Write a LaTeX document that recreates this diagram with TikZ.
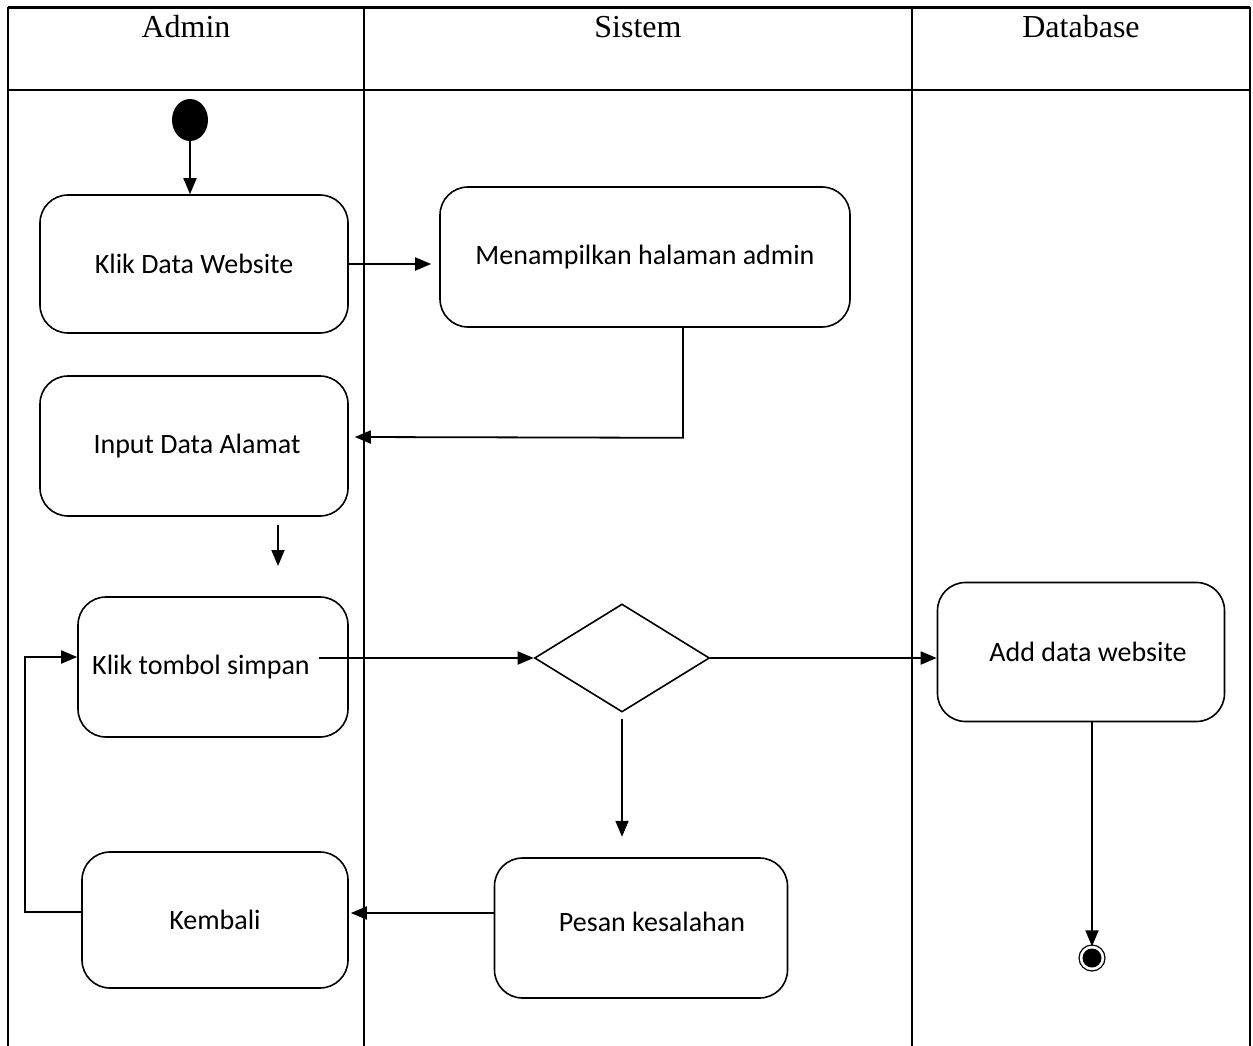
\documentclass[tikz,border=0pt]{standalone}
\usepackage{fontspec}
\setmainfont{Liberation Serif}
\newfontfamily\boxfont{Carlito}
\usetikzlibrary{arrows.meta,shapes.geometric}
\tikzset{
  act/.style={draw, line width=1.6pt, rounded corners=28pt, font=\boxfont\fontsize{28}{32}\selectfont, inner sep=0pt},
  lane/.style={line width=1.8pt},
  flow/.style={line width=1.8pt, -{Triangle[length=16pt,width=13pt]}},
  hdr/.style={font=\fontsize{32}{36}\selectfont, anchor=base}
}
\begin{document}
\begin{tikzpicture}[x=1pt,y=-1pt]
\useasboundingbox (0,0) rectangle (1253,1046);
% swimlane table
\draw[lane] (8,1046) -- (8,8) -- (1250,8) -- (1250,1046);
\draw[line width=3pt] (8,8) -- (1250,8);
\draw[lane] (8,90) -- (1250,90);
\draw[lane] (364,8) -- (364,1046);
\draw[lane] (912,8) -- (912,1046);
\node[hdr] (hA) at (186,38) {Admin};
\node[hdr] (hS) at (638,38) {Sistem};
\node[hdr] (hD) at (1081,38) {Database};
% start
\node[ellipse, fill=black, minimum width=36pt, minimum height=42pt, inner sep=0pt] (start) at (190,120) {};
% activities
\node[act, minimum width=308pt, minimum height=138pt] (kdw) at (194,264) {\raisebox{1pt}{Klik Data Website}};
\node[act, minimum width=410pt, minimum height=140pt] (mha) at (645,257) {\raisebox{2pt}{Menampilkan halaman admin}};
\node[act, minimum width=308pt, minimum height=140pt] (ida) at (194,446) {\raisebox{4pt}{\hspace*{6pt}Input Data Alamat}};
\node[act, minimum width=270pt, minimum height=140pt] (kts) at (213,667) {\raisebox{4pt}{Klik tombol simpan\hspace*{24pt}}};
\node[act, minimum width=287pt, minimum height=139pt] (adw) at (1081,652) {\hspace*{14pt}Add data website};
\node[act, minimum width=293pt, minimum height=140pt] (pk) at (641,928) {\raisebox{12pt}{\hspace*{22pt}Pesan kesalahan}};
\node[act, minimum width=266pt, minimum height=136pt] (kmb) at (215,920) {Kembali};
% decision
\node[diamond, draw, line width=1.6pt, minimum width=175pt, minimum height=108pt, inner sep=0pt, aspect=1.6] (dec) at (622,658) {};
% end
\node[circle, draw, line width=1.2pt, minimum size=26pt, inner sep=0pt] (end) at (1092,958) {};
\fill (end.center) circle (9.5pt);
% helper coordinates
\coordinate (a1) at (278,525);
\coordinate (a2) at (278,566);
% connectors
\draw[flow] (start.south) -- (start.south |- kdw.north);
\draw[flow] (kdw.east) -- ([xshift=-8pt]mha.west |- kdw.east);
\draw[flow] ([xshift=38pt]mha.south) -- ++(0,110) -- ([xshift=6pt]ida.east |- 0,437);
\draw[flow] (a1) -- (a2);
\draw[flow] ([xshift=-30pt]kts.east |- dec.west) -- (dec.west);
\draw[flow] (dec.east) -- (adw.west |- dec.east);
\draw[flow] ([xshift=11pt]adw.south) -- ([yshift=-2pt]end.north);
\draw[flow] ([yshift=-6pt]dec.south) -- ++(0,118);
\draw[flow] ([yshift=15pt]pk.west) -- ([xshift=2pt]kmb.east |- 0,913);
\draw[flow] ([yshift=8pt]kmb.west) -- (25,912) -- (25,657) -- (kts.west |- 0,657);
\end{tikzpicture}
\end{document}
